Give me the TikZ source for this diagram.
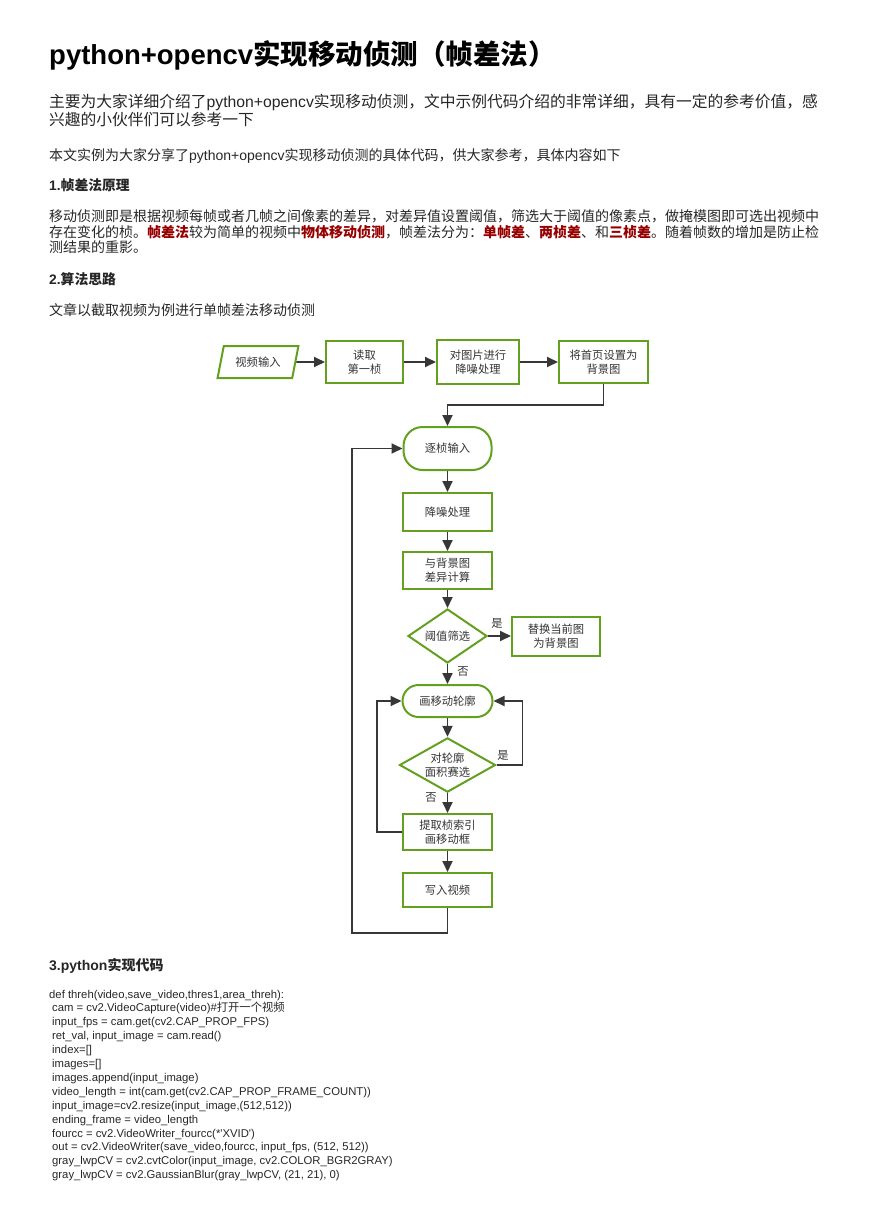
\documentclass[tikz,border=0pt]{standalone}
\usepackage{fontspec}
\setmainfont{Liberation Sans}
\newfontfamily\cjk{Noto Sans CJK SC}
\usetikzlibrary{positioning,shapes.geometric,arrows.meta}
\definecolor{boxgreen}{RGB}{98,160,30}
\definecolor{linegray}{RGB}{55,55,55}
\definecolor{hired}{RGB}{150,0,0}
\newcommand{\zh}[1]{{\cjk #1}}
\newcommand{\hl}[1]{{\color{hired}\bfseries\cjk #1}}

\begin{document}
\begin{tikzpicture}[x=1pt,y=-1pt]
\tikzset{txt/.style={anchor=base west,inner sep=0pt,text=black!85}}
\tikzset{code/.style={txt,font=\fontsize{11.3}{13.9}\selectfont}}
\tikzset{B/.style={draw=boxgreen,line width=2pt,minimum width=89pt,inner sep=1pt,align=center,
  font=\cjk\fontsize{11.3}{13.7}\selectfont,text=black!80}}
\tikzset{R/.style={B,rounded corners=16pt}}
\tikzset{D/.style={B,diamond,aspect=1.5,inner sep=0pt}}
\tikzset{arr/.style={draw=linegray,line width=1.8pt,-{Triangle[length=11pt,width=10pt]}}}
\tikzset{yn/.style={font=\cjk\fontsize{11.3}{13}\selectfont,inner sep=0pt,text=black!80}}

  \useasboundingbox (0,0) rectangle (868,1228);

  % text above the chart
  \node[txt,text=black,font=\bfseries\fontsize{27.5}{30}\selectfont] (title) at (49,65)
    {python+opencv\zh{实现移动侦测（帧差法）}};
  \node[txt,font=\fontsize{15.75}{18}\selectfont] (intro1) at (49,108)
    {\zh{主要为大家详细介绍了}python+opencv\zh{实现移动侦测，文中示例代码介绍的非常详细，具有一定的参考价值，感}};
  \node[txt,font=\fontsize{15.75}{18}\selectfont] (intro2) at (49,126)
    {\zh{兴趣的小伙伴们可以参考一下}};
  \node[txt,font=\fontsize{14}{16}\selectfont] (share) at (49,160)
    {\zh{本文实例为大家分享了}python+opencv\zh{实现移动侦测的具体代码，供大家参考，具体内容如下}};
  \node[txt,font=\bfseries\fontsize{13.8}{16}\selectfont] (h1) at (49,190) {1.\zh{帧差法原理}};
  \node[txt,font=\fontsize{14}{16}\selectfont] (p1) at (49,221.3)
    {\zh{移动侦测即是根据视频每帧或者几帧之间像素的差异，对差异值设置阈值，筛选大于阈值的像素点，做掩模图即可选出视频中}};
  \node[txt,font=\fontsize{14}{16}\selectfont] (p2) at (49,237)
    {\zh{存在变化的桢。}\hl{帧差法}\zh{较为简单的视频中}\hl{物体移动侦测}\zh{，帧差法分为：}\hl{单帧差}\zh{、}\hl{两桢差}\zh{、和}\hl{三桢差}\zh{。随着帧数的增加是防止检}};
  \node[txt,font=\fontsize{14}{16}\selectfont] (p3) at (49,252.8) {\zh{测结果的重影。}};
  \node[txt,font=\bfseries\fontsize{13.8}{16}\selectfont] (h2) at (49,284.3) {2.\zh{算法思路}};
  \node[txt,font=\fontsize{14}{16}\selectfont] (lead) at (49,315.3) {\zh{文章以截取视频为例进行单帧差法移动侦测}};

  % flow chart
  \node[B,trapezium,trapezium left angle=71,trapezium right angle=109,trapezium stretches=true,
    minimum width=81pt,minimum height=32pt] (input) at (258,362) {视频输入};
  \node[B,minimum width=77pt,minimum height=42pt] (read) at (364.5,362) {读取\\第一桢};
  \node[B,minimum width=82pt,minimum height=44pt] (prep) at (478,362) {对图片进行\\降噪处理};
  \node[B,minimum height=42pt] (setbg) at (603.5,362) {将首页设置为\\背景图};
  \node[R,rounded corners=19pt,minimum width=88pt,minimum height=43pt] (frame) at (447.5,448.5) {逐桢输入};
  \node[B,minimum height=38pt] (denoise) at (447.5,512) {降噪处理};
  \node[B,minimum height=37pt] (diff) at (447.5,570.5) {与背景图\\差异计算};
  \node[D,minimum width=79pt,minimum height=54pt] (thresh) at (447.5,636) {阈值筛选};
  \node[B,minimum width=88pt,minimum height=39pt] (swap) at (556,636) {替换当前图\\为背景图};
  \node[R,minimum width=90pt,minimum height=32pt] (contour) at (447.5,701) {画移动轮廓};
  \node[D,minimum width=96pt,minimum height=54pt] (area) at (447.5,765) {对轮廓\\面积赛选};
  \node[B,minimum height=36pt] (mark) at (447.5,832) {提取桢索引\\画移动框};
  \node[B,minimum height=34pt] (write) at (447.5,890) {写入视频};

  \node[yn] (yes1) at (497,623) {是};
  \node[yn] (no1) at (463,672) {否};
  \node[yn] (yes2) at (503,755) {是};
  \node[yn] (no2) at (431,798) {否};

  \draw[arr] (input) -- (read);
  \draw[arr] (read) -- (prep);
  \draw[arr] (prep) -- (setbg);
  \draw[arr] (setbg.south) -- ++(0,21) -| (frame.north);
  \draw[arr] (frame) -- (denoise);
  \draw[arr] (denoise) -- (diff);
  \draw[arr] (diff) -- (thresh);
  \draw[arr] (thresh) -- (swap);
  \draw[arr] (thresh) -- (contour);
  \draw[arr] (contour) -- (area);
  \draw[arr] (area.east) -- ++(26,0) |- (contour.east);
  \draw[arr] (area) -- (mark);
  \draw[arr] (mark.west) -- ++(-25,0) |- (contour.west);
  \draw[arr] (mark) -- (write);
  \draw[arr] (write.south) -- ++(0,25) -- ++(-95.5,0) |- (frame.west);

  % code
  \node[txt,font=\bfseries\fontsize{14}{16}\selectfont] (h3) at (49,970.3) {3.python\zh{实现代码}};
  \node[code] (c1) at (49,998) {def threh(video,save\_video,thres1,area\_threh):};
  \node[code] (c2) at (52,1011.9) {cam = cv2.VideoCapture(video)\#\zh{打开一个视频}};
  \node[code] (c3) at (52,1025.8) {input\_fps = cam.get(cv2.CAP\_PROP\_FPS)};
  \node[code] (c4) at (52,1039.7) {ret\_val, input\_image = cam.read()};
  \node[code] (c5) at (52,1053.6) {index=[]};
  \node[code] (c6) at (52,1067.5) {images=[]};
  \node[code] (c7) at (52,1081.4) {images.append(input\_image)};
  \node[code] (c8) at (52,1095.3) {video\_length = int(cam.get(cv2.CAP\_PROP\_FRAME\_COUNT))};
  \node[code] (c9) at (52,1109.2) {input\_image=cv2.resize(input\_image,(512,512))};
  \node[code] (c10) at (52,1123.1) {ending\_frame = video\_length};
  \node[code] (c11) at (52,1137) {fourcc = cv2.VideoWriter\_fourcc(*\textquotesingle XVID\textquotesingle)};
  \node[code] (c12) at (52,1150.9) {out = cv2.VideoWriter(save\_video,fourcc, input\_fps, (512, 512))};
  \node[code] (c13) at (52,1164.8) {gray\_lwpCV = cv2.cvtColor(input\_image, cv2.COLOR\_BGR2GRAY)};
  \node[code] (c14) at (52,1178.7) {gray\_lwpCV = cv2.GaussianBlur(gray\_lwpCV, (21, 21), 0)};
\end{tikzpicture}
\end{document}
